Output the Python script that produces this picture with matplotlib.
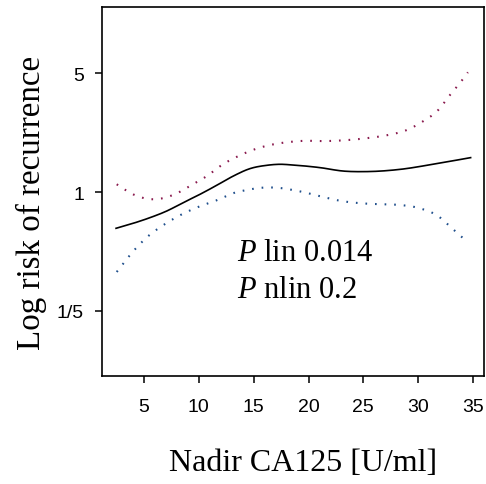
import numpy as np
import matplotlib as mpl
mpl.use('Agg')
import matplotlib.pyplot as plt

plt.rcParams['mathtext.fontset'] = 'custom'
plt.rcParams['mathtext.it'] = 'Liberation Serif:italic'
plt.rcParams['mathtext.rm'] = 'Liberation Serif'

# spline fit and 95% band
fit_x = [2.45, 4.02, 5.55, 7.07, 8.58, 10.10, 11.63, 13.14, 14.66, 16.19, 17.40, 18.61,
         21.04, 23.14, 25.30, 28.38, 31.34, 34.78]
fit_y = [0.612, 0.655, 0.707, 0.773, 0.867, 0.969, 1.095, 1.241, 1.372, 1.435, 1.455, 1.440,
         1.391, 1.328, 1.318, 1.359, 1.455, 1.592]

upper_x = [2.51, 4.0, 5.82, 7.64, 9.19, 10.72, 12.20, 13.75, 14.66, 19.22, 21.77, 23.6,
           25.42, 27.24, 28.95, 30.43, 31.80, 32.89, 33.99, 34.53]
upper_y = [1.11, 0.969, 0.906, 0.960, 1.084, 1.24, 1.455, 1.643, 1.741, 1.993, 1.993, 2.02,
           2.075, 2.161, 2.312, 2.60, 3.02, 3.71, 4.53, 5.05]

lower_x = [2.51, 4.18, 5.36, 6.73, 8.28, 9.92, 11.62, 13.29, 14.21, 15.85, 17.67, 18.58,
           19.49, 21.32, 23.02, 24.85, 26.67, 28.34, 30.16, 31.80, 33.08, 34.42]
lower_y = [0.339, 0.461, 0.549, 0.637, 0.730, 0.816, 0.894, 0.992, 1.023, 1.061, 1.051, 1.027,
           1.0, 0.935, 0.885, 0.858, 0.847, 0.839, 0.802, 0.723, 0.612, 0.513]

x_ticks = [5, 10, 15, 20, 25, 30, 35]
y_ticks = [0.2, 1, 5]
y_ticklabels = ['1/5', '1', '5']

serif = 'Liberation Serif'
sans = 'Liberation Sans'


def smooth(xs, ys, n=300):
    # cubic hermite through the read points, in log space
    xs = np.asarray(xs, float)
    ly = np.log(np.asarray(ys, float))
    xn = np.linspace(xs[0], xs[-1], n)
    m = np.gradient(ly, xs)
    out = np.empty(n)
    for j, xv in enumerate(xn):
        i = min(max(np.searchsorted(xs, xv) - 1, 0), len(xs) - 2)
        h = xs[i+1] - xs[i]
        t = (xv - xs[i]) / h
        h00 = 2*t**3 - 3*t**2 + 1
        h10 = t**3 - 2*t**2 + t
        h01 = -2*t**3 + 3*t**2
        h11 = t**3 - t**2
        out[j] = h00*ly[i] + h10*h*m[i] + h01*ly[i+1] + h11*h*m[i+1]
    return xn, np.exp(out)


fig = plt.figure(figsize=(4.86, 4.85), dpi=100)
ax = fig.add_axes([0.2099, 0.2227, 0.7860, 0.7608])

xs, ys = smooth(fit_x, fit_y)
ax.plot(xs, ys, color='black', linewidth=1.2)
xs, ys = smooth(upper_x, upper_y)
ax.plot(xs, ys, color='#8a1a4e', linewidth=1.5, linestyle=(0, (0.8, 3.8)))
xs, ys = smooth(lower_x, lower_y)
ax.plot(xs, ys, color='#1f4f8c', linewidth=1.5, linestyle=(0, (0.8, 3.8)))

ax.set_yscale('log')
ax.set_xlim(1.17, 36.0)
ax.set_ylim(10**-1.081, 10**1.087)
ax.set_xticks(x_ticks)
ax.set_xticklabels([str(v) for v in x_ticks], fontsize=14, fontfamily=sans)
ax.set_yticks(y_ticks)
ax.set_yticklabels(y_ticklabels, fontsize=14, fontfamily=sans)
ax.yaxis.set_minor_locator(mpl.ticker.NullLocator())
ax.tick_params(length=5, width=1.1)
ax.tick_params(axis='x', pad=11)
ax.tick_params(axis='y', pad=8)
for s in ax.spines.values():
    s.set_linewidth(1.2)

fig.text(0.6232, 0.0289, 'Nadir CA125 [U/ml]', fontsize=23, fontfamily=serif,
         ha='center', va='baseline')
fig.text(0.082, 0.5825, 'Log risk of recurrence', fontsize=23.8, fontfamily=serif,
         ha='center', va='baseline', rotation=90, rotation_mode='anchor')

ax.text(13.45, 0.397, r'$P$ lin 0.014', fontsize=22, fontfamily=serif, va='baseline')
ax.text(13.45, 0.241, r'$P$ nlin 0.2', fontsize=22, fontfamily=serif, va='baseline')

fig.savefig('out.png', dpi=100)
